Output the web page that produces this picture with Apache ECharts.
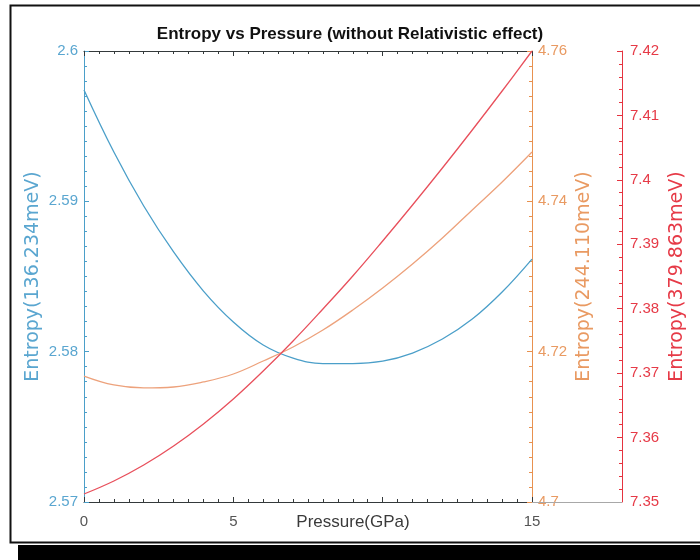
<!DOCTYPE html>
<html>
<head>
<meta charset="utf-8">
<script src="https://cdn.jsdelivr.net/npm/echarts@6/dist/echarts.min.js"></script>
<style>
  html, body { margin: 0; padding: 0; background: #fff; }
  #chart { width: 700px; height: 560px; }
</style>
</head>
<body>
<div id="chart"></div>
<script>
// Pressure samples (GPa)
const pressure = [0, 1, 2, 3, 4, 5, 6, 7, 8, 9, 10, 11, 12, 13, 14, 15];

// Entropy curves, one per energy level
const entropy136 = [2.59741, 2.59328, 2.58969, 2.58663, 2.58403, 2.58197, 2.58044, 2.57957,
                    2.57921, 2.57921, 2.57937, 2.57991, 2.58084, 2.58217, 2.58397, 2.58616];
const entropy244 = [4.71676, 4.71557, 4.71517, 4.71530, 4.71597, 4.71703, 4.71876, 4.72062,
                    4.72288, 4.72554, 4.72847, 4.73166, 4.73512, 4.73885, 4.74257, 4.74656];
const entropy379 = [7.35124, 7.35326, 7.35574, 7.35869, 7.36211, 7.36599, 7.37033, 7.37499,
                    7.37996, 7.38508, 7.39051, 7.39610, 7.40184, 7.40774, 7.41379, 7.42000];

const titleText = 'Entropy vs Pressure (without Relativistic effect)';
const xName = 'Pressure(GPa)';
const yNames = ['Entropy(136.234meV)', 'Entropy(244.110meV)', 'Entropy(379.863meV)'];

const BLUE = '#4b9fc9', BLUE_TXT = '#5aa6d0';
const ORANGE = '#e8914f', ORANGE_LINE = '#eda27c', ORANGE_TXT = '#e99a62';
const RED = '#e5333f', RED_LINE = '#e8505c', RED_TXT = '#e63a47';

const NARROW = "'Liberation Sans Narrow', 'Liberation Sans', Arial, sans-serif";

const G = { left: 84, right: 168, top: 51, bottom: 58 };

const pairs = ys => pressure.map((p, i) => [p, ys[i]]);

function xAxisDef(pos, showLabel) {
  return {
    type: 'value', position: pos, min: 0, max: 15, interval: 5,
    axisLine: { show: true, onZero: false, lineStyle: { color: '#34393b', width: 1 } },
    axisTick: { show: true, inside: true, length: 5, lineStyle: { color: '#34393b' } },
    minorTick: { show: true, splitNumber: 10, length: 3, lineStyle: { color: '#34393b' } },
    splitLine: { show: false },
    axisLabel: {
      show: showLabel, margin: 12, color: '#555', fontSize: 15, fontFamily: NARROW,
      formatter: v => (v === 10 ? '' : String(v))
    },
    name: showLabel ? xName : '',
    nameLocation: 'middle', nameGap: 12, nameMoveOverlap: false,
    nameTextStyle: { color: '#3a3a3a', fontSize: 17, fontFamily: NARROW, padding: [0, 0, 0, 90] }
  };
}

function yAxisDef(opts) {
  return {
    type: 'value', position: opts.pos, offset: opts.offset || 0,
    min: opts.min, max: opts.max, interval: opts.interval,
    axisLine: { show: true, onZero: false, lineStyle: { color: opts.color, width: 1 } },
    axisTick: { show: true, inside: true, length: 5, lineStyle: { color: opts.color } },
    minorTick: { show: true, splitNumber: opts.minor, length: 3, lineStyle: { color: opts.color } },
    splitLine: { show: false },
    axisLabel: { color: opts.text, fontSize: 15, fontFamily: NARROW, margin: opts.margin },
    name: opts.name, nameLocation: 'middle', nameGap: opts.nameGap, nameRotate: 90,
    nameMoveOverlap: false,
    nameTextStyle: { color: opts.text, fontSize: 19, fontFamily: "'DejaVu Sans', sans-serif" }
  };
}

const chart = echarts.init(document.getElementById('chart'), null, { renderer: 'canvas' });

chart.setOption({
  animation: false,
  backgroundColor: '#fff',
  title: {
    text: titleText, left: 'center', top: 21,
    textStyle: { color: '#111', fontSize: 17, fontWeight: 'bold', fontFamily: NARROW }
  },
  grid: G,
  xAxis: [xAxisDef('bottom', true), xAxisDef('top', false)],
  yAxis: [
    yAxisDef({ pos: 'left', min: 2.57, max: 2.6, interval: 0.01, minor: 10, color: BLUE,
               text: BLUE_TXT, margin: 6, name: yNames[0], nameGap: 41 }),
    yAxisDef({ pos: 'right', min: 4.7, max: 4.76, interval: 0.02, minor: 10, color: ORANGE,
               text: ORANGE_TXT, margin: 6, name: yNames[1], nameGap: 43 }),
    yAxisDef({ pos: 'right', offset: 90, min: 7.35, max: 7.42, interval: 0.01, minor: 5, color: RED,
               text: RED_TXT, margin: 8, name: yNames[2], nameGap: 46 })
  ],
  series: [
    { type: 'line', xAxisIndex: 0, yAxisIndex: 0, data: pairs(entropy136), smooth: 0.4,
      showSymbol: false, lineStyle: { color: BLUE, width: 1.3 } },
    { type: 'line', xAxisIndex: 0, yAxisIndex: 1, data: pairs(entropy244), smooth: 0.4,
      showSymbol: false, lineStyle: { color: ORANGE_LINE, width: 1.3 } },
    { type: 'line', xAxisIndex: 0, yAxisIndex: 2, data: pairs(entropy379), smooth: 0.4,
      showSymbol: false, lineStyle: { color: RED_LINE, width: 1.3 } }
  ],
  graphic: [
    // figure frame
    { type: 'rect', silent: true, z: 100,
      shape: { x: 10.5, y: 5.5, width: 700, height: 537 },
      style: { fill: null, stroke: '#111', lineWidth: 2 } },
    // dark strip under the frame
    { type: 'rect', silent: true, z: 100,
      shape: { x: 18, y: 545, width: 682, height: 15 },
      style: { fill: '#000' } },
    // base line joining the plot to the outer axis
    { type: 'line', silent: true, z: 1,
      shape: { x1: 700 - G.right, y1: 560 - G.bottom + 0.5, x2: 700 - G.right + 90, y2: 560 - G.bottom + 0.5 },
      style: { stroke: '#a8a8a8', lineWidth: 1 } }
  ]
});
</script>
</body>
</html>
